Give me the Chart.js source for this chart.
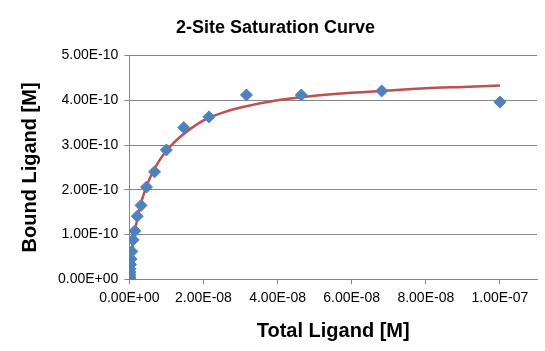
<!DOCTYPE html>
<html>
<head>
<meta charset="UTF-8">
<title>2-Site Saturation Curve</title>
<script src="https://cdn.jsdelivr.net/npm/chart.js"></script>
<style>
  html, body { margin: 0; padding: 0; background: #fff; }
  #wrap { width: 545px; height: 351px; }
</style>
</head>
<body>
<div id="wrap"><canvas id="chart" width="545" height="351"></canvas></div>
<script>
// measured data (total ligand, bound ligand)
const totalLigand = [1e-7, 6.81e-8, 4.64e-8, 3.16e-8, 2.15e-8, 1.47e-8, 1e-8, 6.81e-9, 4.64e-9,
  3.16e-9, 2.15e-9, 1.47e-9, 1e-9, 6.81e-10, 4.64e-10, 3.16e-10, 2.15e-10, 1.47e-10, 1e-10,
  6.81e-11, 4.64e-11, 3.16e-11, 2.15e-11, 1.47e-11, 1e-11];
const boundLigand = [3.96e-10, 4.21e-10, 4.12e-10, 4.12e-10, 3.63e-10, 3.39e-10, 2.89e-10, 2.40e-10, 2.06e-10,
  1.65e-10, 1.41e-10, 1.08e-10, 0.88e-10, 0.62e-10, 0.45e-10, 0.33e-10, 0.23e-10, 0.16e-10, 0.11e-10,
  0.075e-10, 0.05e-10, 0.034e-10, 0.023e-10, 0.016e-10, 0.011e-10];

// fitted curve
const fitX = [0, 2e-10, 5e-10, 1e-9, 1.5e-9, 2e-9, 3e-9, 4e-9, 5e-9, 6e-9, 8e-9, 1e-8, 1.25e-8, 1.5e-8,
  2e-8, 2.5e-8, 3e-8, 4e-8, 5e-8, 6e-8, 7e-8, 8e-8, 9e-8, 1e-7];
const fitY = [0, 0.21e-10, 0.46e-10, 0.80e-10, 1.07e-10, 1.29e-10, 1.65e-10, 1.93e-10, 2.15e-10, 2.34e-10,
  2.64e-10, 2.87e-10, 3.09e-10, 3.27e-10, 3.55e-10, 3.72e-10, 3.84e-10, 4.00e-10, 4.10e-10, 4.17e-10,
  4.22e-10, 4.27e-10, 4.30e-10, 4.33e-10];

const xTicks = [0, 2e-8, 4e-8, 6e-8, 8e-8, 1e-7];
const yTicks = [0, 1e-10, 2e-10, 3e-10, 4e-10, 5e-10];

function sci(v) {
  if (Math.abs(v) < 1e-20) v = 0;
  const s = v.toExponential(2).toUpperCase();
  const [m, e] = s.split('E');
  const sign = e[0] === '-' ? '-' : '+';
  const digits = e.replace(/[+-]/, '').padStart(2, '0');
  return m + 'E' + sign + digits;
}

const gridColor = '#868686';
const font = 'Liberation Sans, Arial, sans-serif';

new Chart(document.getElementById('chart'), {
  type: 'scatter',
  data: {
    datasets: [{
      label: 'Fit',
      data: fitX.map((x, i) => ({ x: x, y: fitY[i] })),
      showLine: true,
      borderColor: '#C0504D',
      borderWidth: 2.5,
      pointRadius: 0,
      tension: 0.3,
      order: 2
    }, {
      label: 'Data',
      data: totalLigand.map((x, i) => ({ x: x, y: boundLigand[i] })),
      pointStyle: 'rectRot',
      pointRadius: 6,
      backgroundColor: '#4F81BD',
      borderColor: '#4F81BD',
      borderWidth: 1,
      order: 1
    }]
  },
  options: {
    responsive: false,
    animation: false,
    layout: { padding: { left: 14, right: 8, top: 8, bottom: 2 } },
    plugins: {
      legend: { display: false },
      tooltip: { enabled: false },
      title: {
        display: true,
        text: '2-Site Saturation Curve',
        color: '#000',
        font: { family: font, size: 18, weight: 'bold' },
        padding: { top: 9, bottom: 17 }
      }
    },
    scales: {
      x: {
        type: 'linear',
        min: 0,
        max: 1.1e-7,
        afterBuildTicks: s => { s.ticks = xTicks.map(v => ({ value: v })); },
        ticks: { callback: v => sci(v), color: '#000', font: { family: font, size: 14 }, maxRotation: 0, padding: 6 },
        grid: { drawOnChartArea: false, color: gridColor, tickLength: 5 },
        border: { color: gridColor },
        title: { display: true, text: 'Total Ligand [M]', color: '#000', font: { family: font, size: 20, weight: 'bold' }, padding: { top: 6, bottom: 6 } }
      },
      y: {
        min: 0,
        max: 5e-10,
        afterBuildTicks: s => { s.ticks = yTicks.map(v => ({ value: v })); },
        ticks: { callback: v => sci(v), color: '#000', font: { family: font, size: 14 }, padding: 6 },
        grid: { color: gridColor, tickLength: 5 },
        border: { color: gridColor },
        title: { display: true, text: 'Bound Ligand [M]', color: '#000', font: { family: font, size: 20, weight: 'bold' }, padding: { bottom: 10 } }
      }
    }
  }
});
</script>
</body>
</html>
